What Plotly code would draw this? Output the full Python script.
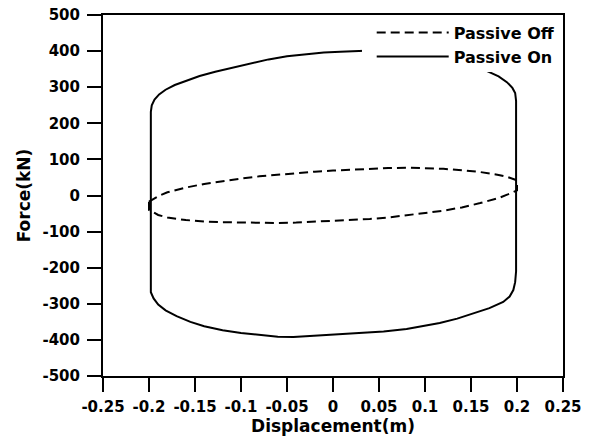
import plotly.graph_objects as go

# Passive On loop (left vertical up, top left->right, right vertical down, bottom right->left)
on_x = [-0.198, -0.198, -0.198, -0.197, -0.194, -0.189, -0.182, -0.172, -0.160, -0.145, -0.128,
        -0.110, -0.090, -0.070, -0.050, -0.028, -0.010, 0.008, 0.033, 0.055, 0.080, 0.100, 0.120,
        0.140, 0.155, 0.167, 0.180, 0.189, 0.195, 0.198, 0.199, 0.199, 0.199,
        0.198, 0.196, 0.192, 0.185, 0.170, 0.152, 0.135, 0.116, 0.100, 0.080, 0.055,
        0.029, 0.008, -0.011, -0.030, -0.043, -0.060, -0.083, -0.100, -0.120, -0.140,
        -0.155, -0.170, -0.182, -0.190, -0.195, -0.198, -0.198]
on_y = [-255, 0, 232, 250, 266, 280, 293, 306, 318, 331, 343,
        354, 366, 377, 386, 392, 396, 398, 401, 403, 402, 398, 390,
        377, 364, 345, 330, 314, 298, 284, 262, 0, -210,
        -240, -262, -280, -295, -312, -326, -341, -353, -361, -370, -377,
        -381, -386, -389, -391, -392, -391, -386, -381, -373, -362,
        -350, -334, -318, -302, -285, -268, -255]

# Passive Off loop
off_x = [-0.200, -0.190, -0.180, -0.160, -0.140, -0.120, -0.100, -0.080, -0.060, -0.040, -0.020,
         0.000, 0.020, 0.040, 0.060, 0.080, 0.100, 0.120, 0.140, 0.160, 0.180, 0.190, 0.200,
         0.200, 0.190, 0.180, 0.160, 0.140, 0.120, 0.100, 0.080, 0.060, 0.040, 0.020, 0.000,
         -0.020, -0.040, -0.060, -0.080, -0.100, -0.120, -0.140, -0.160, -0.180, -0.190, -0.200, -0.200]
off_y = [-17, -2, 9, 22, 32, 40, 47, 53, 58, 62, 66,
         69, 72, 74, 76, 77, 76, 74, 70, 65, 57, 51, 42,
         14, 3, -7, -21, -33, -42, -49, -56, -61, -65, -68, -71,
         -73, -75, -76, -76, -76, -74, -72, -68, -61, -54, -40, -17]

x_ticks = [-0.25, -0.2, -0.15, -0.1, -0.05, 0, 0.05, 0.1, 0.15, 0.2, 0.25]
x_labels = ["-0.25", "-0.2", "-0.15", "-0.1", "-0.05", "0", "0.05", "0.1", "0.15", "0.2", "0.25"]
y_ticks = [500, 400, 300, 200, 100, 0, -100, -200, -300, -400, -500]
y_labels = ["500", "400", "300", "200", "100", "0", "-100", "-200", "-300", "-400", "-500"]

FONT = "DejaVu Sans"

fig = go.Figure()
fig.add_trace(go.Scatter(x=off_x, y=off_y, mode="lines", name="Passive Off",
                         line=dict(color="black", width=2, dash="9px,5px")))
fig.add_trace(go.Scatter(x=on_x, y=on_y, mode="lines", name="Passive On",
                         line=dict(color="black", width=2)))

axis_common = dict(showline=True, linecolor="black", linewidth=2, mirror=True,
                   ticks="outside", ticklen=14, tickwidth=1.5, tickcolor="black",
                   showgrid=False, zeroline=False, automargin=False,
                   tickfont=dict(family=FONT, size=15, color="black", weight="bold"))

# white panel behind the legend (keeps the plot's top border visible)
fig.add_shape(type="rect", xref="paper", yref="paper",
              x0=0.563, x1=0.995, y0=0.842, y1=0.994,
              fillcolor="white", line=dict(width=0), layer="above")

fig.update_layout(
    width=595, height=437,
    margin=dict(l=103, r=32, t=15, b=61, autoexpand=False),
    paper_bgcolor="white", plot_bgcolor="white",
    showlegend=True,
    legend=dict(x=0.995, y=0.998, xanchor="right", yanchor="top",
                bgcolor="rgba(0,0,0,0)", borderwidth=0,
                font=dict(family=FONT, size=16, color="black", weight="bold"),
                itemwidth=72, tracegroupgap=0),
    xaxis=dict(range=[-0.25, 0.25], tickvals=x_ticks, ticktext=x_labels,
               ticklabelstandoff=2,
               title=dict(text="Displacement(m)", standoff=5,
                          font=dict(family=FONT, size=17, color="black", weight="bold")),
               **axis_common),
    yaxis=dict(range=[-500, 500], tickvals=y_ticks, ticktext=y_labels,
               ticklabelstandoff=4,
               title=dict(text="Force(kN)", standoff=8,
                          font=dict(family=FONT, size=17, color="black", weight="bold")),
               **axis_common),
)

fig.write_html("out.html")
